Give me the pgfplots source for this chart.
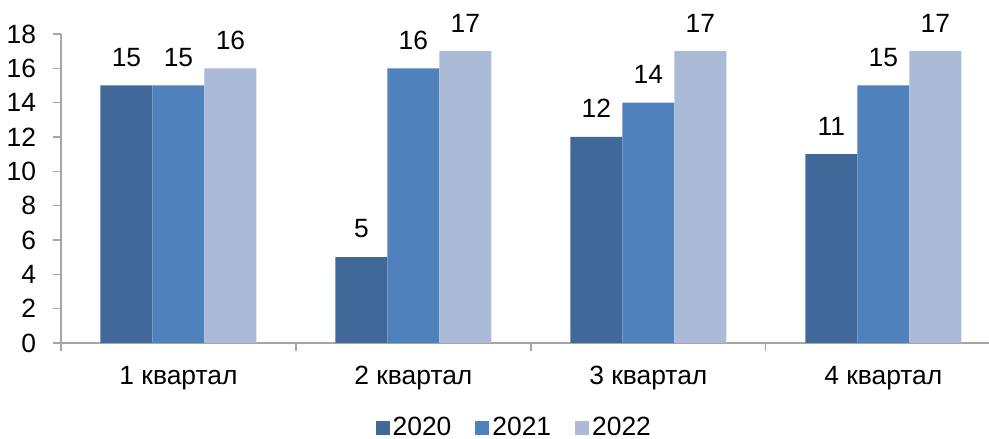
\documentclass[border=0pt]{standalone}
\usepackage{fontspec}
\setmainfont{Liberation Sans}
\usepackage{pgfplots}
\pgfplotsset{compat=1.18}
\definecolor{cA}{RGB}{64,105,154}
\definecolor{cB}{RGB}{79,129,189}
\definecolor{cC}{RGB}{170,186,215}
\definecolor{axgray}{RGB}{166,166,166}
\newcommand{\bigf}{\fontsize{26.5}{31}\selectfont}
\begin{document}
\bigf
\begin{tikzpicture}[font=\bigf]
\useasboundingbox (0,0) rectangle (989bp,439bp);
\begin{axis}[
  at={(61bp,96bp)}, anchor=south west,
  scale only axis, width=928bp, height=309bp,
  xmin=-0.5, xmax=3.45, ymin=0, ymax=18,
  axis lines*=left,
  axis line style={draw=axgray, line width=1.3bp},
  ybar=0pt, bar width=52bp,
  ytick={0,2,...,18},
  /pgf/number format/assume math mode=true,
  tick label style={font=\bigf},
  tick align=outside, major tick length=8bp, minor tick length=8bp,
  tick style={draw=axgray, line width=1.3bp},
  xtick={0,1,2,3},
  xticklabels={1 квартал,2 квартал,3 квартал,4 квартал},
  major x tick style={draw=none},
  minor xtick={-0.5,0.5,1.5,2.5},
  yticklabel style={xshift=-8bp},
  xticklabel style={yshift=-6bp},
  nodes near coords,
  nodes near coords style={yshift=10bp, text=black, font=\bigf},
  legend columns=-1,
  legend style={draw=none, fill=none, at={(0.489,-0.275)}, anchor=center,
    font=\bigf,
    nodes={inner xsep=3bp},
    /tikz/every even column/.append style={column sep=21bp}},
  legend image code/.code={\fill[#1] (0bp,-7bp) rectangle (14bp,7bp);},
]
\addplot[fill=cA, draw=none] coordinates {(0,15) (1,5) (2,12) (3,11)};
\addplot[fill=cB, draw=none] coordinates {(0,15) (1,16) (2,14) (3,15)};
\addplot[fill=cC, draw=none] coordinates {(0,16) (1,17) (2,17) (3,17)};
\legend{2020,2021,2022}
\end{axis}
\end{tikzpicture}
\end{document}
